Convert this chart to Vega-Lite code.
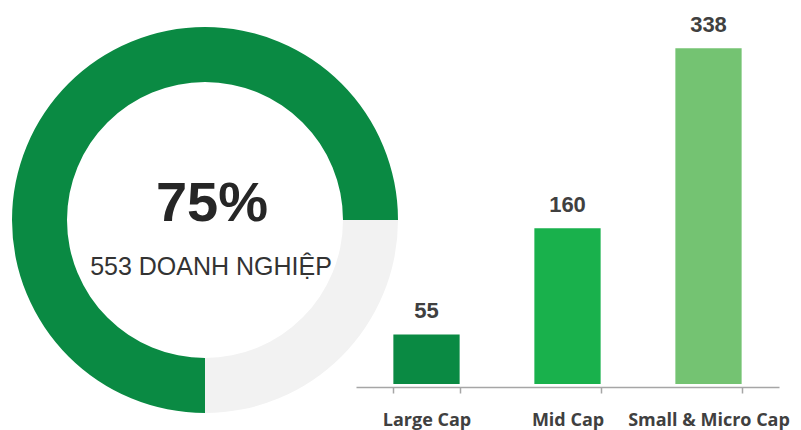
{
  "$schema": "https://vega.github.io/schema/vega-lite/v6.json",
  "padding": {"left": 12, "top": 0, "right": 0, "bottom": 0},
  "background": "white",
  "spacing": 0,
  "bounds": "flush",
  "config": {"view": {"stroke": null}},
  "resolve": {"scale": {"color": "independent"}},
  "hconcat": [
    {
      "width": 302,
      "height": 440,
      "layer": [
        {
          "data": {"values": [
            {"part": "Còn lại", "pct": 25, "ord": 1},
            {"part": "Doanh nghiệp", "pct": 75, "ord": 2}
          ]},
          "mark": {"type": "arc", "outerRadius": 193, "innerRadius": 138},
          "encoding": {
            "theta": {"field": "pct", "type": "quantitative", "stack": true, "scale": {"domain": [0, 100], "range": [1.5708, 7.854]}},
            "order": {"field": "ord"},
            "color": {"field": "part", "type": "nominal", "scale": {"domain": ["Còn lại", "Doanh nghiệp"], "range": ["#f2f2f2", "#0a8a43"]}, "legend": null}
          }
        },
        {
          "data": {"values": [{"label": "75%"}]},
          "mark": {"type": "text", "font": "Liberation Sans", "fontWeight": "bold", "fontSize": 56, "color": "#262626", "baseline": "alphabetic", "align": "center", "dx": 7, "dy": 1},
          "encoding": {"text": {"field": "label"}}
        },
        {
          "data": {"values": [{"label": "553 DOANH NGHIỆP"}]},
          "mark": {"type": "text", "font": "Liberation Sans", "fontSize": 25, "color": "#333333", "baseline": "alphabetic", "align": "center", "dx": 6, "dy": 55},
          "encoding": {"text": {"field": "label"}}
        }
      ]
    },
    {
      "width": 423,
      "height": 387,
      "data": {"values": [
        {"cap": "Large Cap", "count": 55},
        {"cap": "Mid Cap", "count": 160},
        {"cap": "Small & Micro Cap", "count": 338}
      ]},
      "encoding": {
        "x": {"field": "cap", "type": "nominal", "sort": null, "title": null,
          "scale": {"paddingInner": 0.53, "paddingOuter": 0.265},
          "axis": {"labelAngle": 0, "tickBand": "extent", "tickSize": 6, "domainColor": "#a6a6a6", "tickColor": "#a6a6a6", "domainWidth": 1.5, "tickWidth": 1.5,
            "labelFont": "Open Sans", "labelFontWeight": "bold", "labelFontSize": 18, "labelColor": "#404040", "labelPadding": 32, "labelBaseline": "alphabetic",
            "labelOverlap": false, "labelBound": false, "labelLimit": 0}
        },
        "y": {"field": "count", "type": "quantitative", "scale": {"domain": [3, 385.7], "zero": false, "nice": false}, "axis": null}
      },
      "layer": [
        {
          "mark": {"type": "bar"},
          "encoding": {
            "y2": {"datum": 6},
            "color": {"field": "cap", "type": "nominal", "scale": {"domain": ["Large Cap", "Mid Cap", "Small & Micro Cap"], "range": ["#0a8a43", "#19b14c", "#74c372"]}, "legend": null}
          }
        },
        {
          "mark": {"type": "text", "font": "Liberation Sans", "fontWeight": "bold", "fontSize": 22, "color": "#404040", "baseline": "alphabetic", "dy": -16},
          "encoding": {"text": {"field": "count", "type": "quantitative"}}
        }
      ]
    }
  ]
}
